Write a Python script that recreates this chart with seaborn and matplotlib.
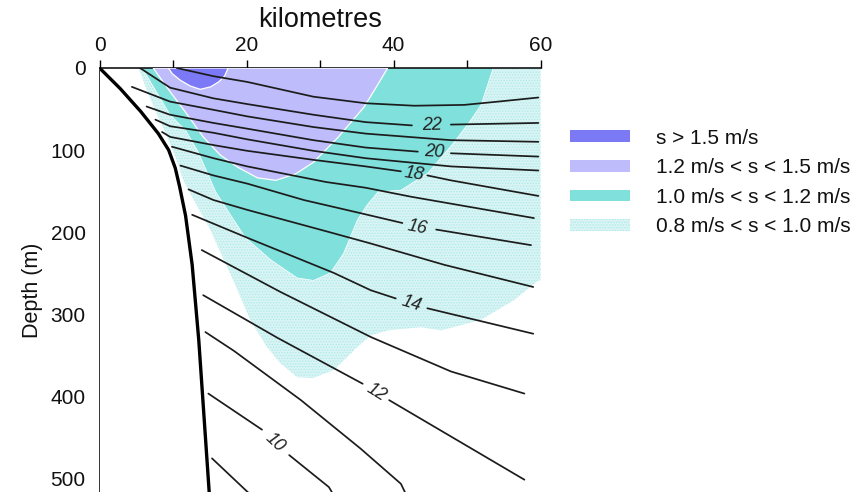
import numpy as np
import pandas as pd
import matplotlib
matplotlib.use("Agg")
import matplotlib.pyplot as plt
import seaborn as sns
from matplotlib.patches import Patch

# ---------------- data (km offshore, depth in m) ----------------
topo_km = [0, 2.8, 5.6, 8.0, 9.4, 10.3, 10.9, 11.7, 12.6, 13.5, 14.9, 15.0]
topo_depth = [0, 25, 53, 80, 100, 122, 145, 180, 240, 332, 515, 530]

# isotherms (deg C); NaN marks the gap left for the inline label
t23_km = [10.5, 15.5, 20.1, 24.6, 29.1, 36.2, 42.8, 49.6, 54.2, 59.7]
t23_depth = [0, 10, 17, 26, 35, 43, 46, 45, 41, 36]
t22_km = [5.5, 9.6, 15.5, 20.1, 29.1, 36.2, 42.5, np.nan, 47.8, 59.7]
t22_depth = [0, 24, 37, 44, 57, 66, 70, np.nan, 69, 67]
t21_km = [4.4, 9.6, 15.5, 20.1, 29.1, 36.2, 47.8, 59.7]
t21_depth = [23, 41, 51, 59, 72, 80, 88, 90]
t20_km = [6.4, 9.6, 15.5, 20.1, 29.1, 36.2, 43.3, np.nan, 47.8, 59.7]
t20_depth = [47, 57, 67, 74, 88, 97, 102, np.nan, 104, 108]
t19_km = [7.6, 9.6, 15.5, 20.1, 29.1, 36.2, 47.8, 59.7]
t19_depth = [63, 71, 79, 87, 101, 110, 120, 125]
t18_km = [8.5, 9.6, 15.5, 20.1, 29.1, 36.2, 41.0, np.nan, 44.6, 47.8, 59.7]
t18_depth = [78, 84, 94, 101, 112, 120, 126, np.nan, 131, 137, 156]
t17_km = [9.85, 15.5, 20.1, 30.8, 36.2, 42.4, 59.1]
t17_depth = [96, 110, 120, 139, 146, 157, 183]
t16_km = [11.0, 15.5, 20.1, 27.8, 35.5, 41.2, np.nan, 45.8, 58.7]
t16_depth = [119, 131, 141, 161, 177, 189, np.nan, 197, 216]
t15_km = [12.1, 15.5, 20.1, 30.8, 36.9, 46.9, 59.0]
t15_depth = [148, 161, 173, 199, 214, 240, 267]
t14_km = [12.6, 20.1, 31.9, 36.9, 40.3, np.nan, 44.6, 59.0]
t14_depth = [179, 207, 250, 271, 281, np.nan, 293, 324]
t13_km = [13.9, 24.6, 36.9, 47.8, 57.8]
t13_depth = [222, 273, 328, 370, 397]
t12_km = [14.1, 24.2, 35.8, np.nan, 39.4, 57.8]
t12_depth = [277, 329, 385, np.nan, 405, 502]
t11_km = [14.4, 18.3, 27.4, 35.5, 41.0, 41.7]
t11_depth = [322, 345, 405, 464, 507, 520]
t10_km = [14.8, 22.1, np.nan, 25.8, 31.2, 31.8]
t10_depth = [397, 441, np.nan, 472, 511, 520]
t9_km = [15.3, 20.5]
t9_depth = [476, 520]

label_text = ["22", "20", "18", "16", "14", "12", "10"]
label_km = [45.2, 45.6, 42.8, 43.2, 42.4, 37.6, 23.9]
label_depth = [70, 103, 129, 194, 287, 396, 457]

# speed bands (polygons)
blue_km = [9.35, 9.9, 11.0, 12.35, 13.7, 15.1, 16.2, 17.0, 17.5]
blue_depth = [0, 7, 15, 22, 26, 23, 17, 10, 0]
lav_km = [7.3, 8.25, 9.6, 11.7, 14.1, 16.4, 18.8, 21.5, 24.0, 26.7, 29.1, 32.4, 35.95, 37.6, 39.2]
lav_depth = [0, 12, 29, 54, 84, 106, 121, 134, 137, 129, 115, 85, 48, 24, 0]
teal_km = [5.8, 7.6, 9.6, 11.7, 13.4, 15.8, 18.1, 19.85, 23.3, 26.9, 29.1, 31.4, 33.2, 35.1,
           36.4, 37.9, 41.0, 44.7, 48.2, 50.55, 51.9, 53.0, 53.55]
teal_depth = [0, 27, 57, 76, 102, 151, 183, 207, 234, 256, 259, 250, 226, 185,
              167, 151, 149, 128, 91, 63, 45, 15, 0]
dot_km = [5.3, 7.0, 9.0, 10.4, 11.4, 13.2, 15.1, 18.2, 20.5, 22.6, 24.6, 26.9, 29.1, 31.9,
          35.1, 36.9, 39.2, 43.7, 46.45, 51.9, 56.4, 59.7, 60.0, 60.0]
dot_depth = [0, 40, 80, 110, 137, 167, 198, 259, 307, 338, 360, 377, 378, 368,
             340, 326, 320, 316, 320, 307, 283, 259, 259, 0]

band_labels = ["s > 1.5 m/s", "1.2 m/s < s < 1.5 m/s",
               "1.0 m/s < s < 1.2 m/s", "0.8 m/s < s < 1.0 m/s"]

# ---------------- style ----------------
sns.set_theme(style="white")
plt.rcParams["font.family"] = ["Liberation Sans", "DejaVu Sans"]
plt.rcParams["hatch.linewidth"] = 0.6

c_blue = "#7b79f5"
c_lav = "#bebcfa"
c_teal = "#7fe0dc"
c_dot = "#d9f4f4"
c_dot_hatch = "#ade9e8"
ink = "#111111"

fig = plt.figure(figsize=(8.56, 4.92), dpi=100)
ax = fig.add_axes([0.1163, 0.0, 0.5152, 0.8618])

# ---------------- long-form table for isotherms ----------------
iso_sets = {
    23: (t23_km, t23_depth), 22: (t22_km, t22_depth), 21: (t21_km, t21_depth),
    20: (t20_km, t20_depth), 19: (t19_km, t19_depth), 18: (t18_km, t18_depth),
    17: (t17_km, t17_depth), 16: (t16_km, t16_depth), 15: (t15_km, t15_depth),
    14: (t14_km, t14_depth), 13: (t13_km, t13_depth), 12: (t12_km, t12_depth),
    11: (t11_km, t11_depth), 10: (t10_km, t10_depth), 9: (t9_km, t9_depth),
}
rows = []
seg_id = 0
for lev, (ks, ds) in iso_sets.items():
    seg_id += 1
    for k, d in zip(ks, ds):
        if np.isnan(k):
            seg_id += 1
            continue
        rows.append({"iso": lev, "seg": seg_id, "km": k, "depth": d})
iso_df = pd.DataFrame(rows)

# ---------------- fills ----------------
ax.fill(dot_km, dot_depth, facecolor=c_dot, edgecolor=c_dot_hatch, hatch="......",
        linewidth=0, zorder=1)
ax.fill(teal_km, teal_depth, facecolor=c_teal, edgecolor="white", linewidth=0.5, zorder=2)
ax.fill(lav_km, lav_depth, facecolor=c_lav, edgecolor="white", linewidth=0.9, zorder=3)
ax.fill(blue_km, blue_depth, facecolor=c_blue, edgecolor="white", linewidth=0.9, zorder=4)
# land (left of the bottom profile)
ax.fill_betweenx(topo_depth, -2, topo_km, color="white", zorder=5)

# isotherms
sns.lineplot(data=iso_df, x="km", y="depth", units="seg", estimator=None, sort=False,
             color="#1c1c1c", linewidth=1.25, ax=ax, zorder=6, legend=False)
# bottom profile
sns.lineplot(x=topo_km, y=topo_depth, sort=False, estimator=None, color="black",
             linewidth=2.4, ax=ax, zorder=7)

# ---------------- axes ----------------
ax.set_xlim(0, 60)
ax.set_ylim(517, 0)
ax.xaxis.tick_top()
ax.xaxis.set_label_position("top")
ax.set_xticks([0, 10, 20, 30, 40, 50, 60])
ax.set_xticklabels(["0", "", "20", "", "40", "", "60"])
ax.set_yticks([0, 100, 200, 300, 400, 500])
ax.tick_params(axis="both", direction="out", length=6, width=1, color="black",
               labelsize=15, labelcolor=ink)
ax.tick_params(axis="x", pad=3)
ax.tick_params(axis="y", pad=4)
ax.set_xlabel("kilometres", fontsize=19.5, color=ink, labelpad=7)
ax.set_ylabel("Depth (m)", fontsize=15.5, color=ink)
ax.yaxis.set_label_coords(-0.128, 0.476)
for s in ["right", "bottom"]:
    ax.spines[s].set_visible(False)
for s in ["left", "top"]:
    ax.spines[s].set_color("black")
    ax.spines[s].set_linewidth(1.1)
ax.set_facecolor("white")
ax.grid(False)

# ---------------- inline labels ----------------
fig.canvas.draw()
for txt, lk, ld in zip(label_text, label_km, label_depth):
    ks, ds = iso_sets[int(txt)]
    i = [j for j, v in enumerate(ks) if np.isnan(v)][0]
    p0 = ax.transData.transform((ks[i - 1], ds[i - 1]))
    p1 = ax.transData.transform((ks[i + 1], ds[i + 1]))
    ang = np.degrees(np.arctan2(p1[1] - p0[1], p1[0] - p0[0]))
    ax.text(lk, ld, txt, fontsize=13, style="italic", color="#222222",
            rotation=ang, rotation_mode="anchor", ha="center", va="center", zorder=8)

# ---------------- legend ----------------
handles = [
    Patch(facecolor=c_blue, edgecolor="none"),
    Patch(facecolor=c_lav, edgecolor="none"),
    Patch(facecolor=c_teal, edgecolor="none"),
    Patch(facecolor=c_dot, edgecolor=c_dot_hatch, hatch="......", linewidth=0),
]
fig.legend(handles, band_labels, loc="upper left", bbox_to_anchor=(570 / 856, 1 - 128.5 / 492),
           frameon=False, fontsize=15, handlelength=2.9, handleheight=0.48,
           handletextpad=1.25, labelspacing=0.51, borderpad=0, borderaxespad=0,
           labelcolor=ink)

fig.savefig("out.png", dpi=100)
